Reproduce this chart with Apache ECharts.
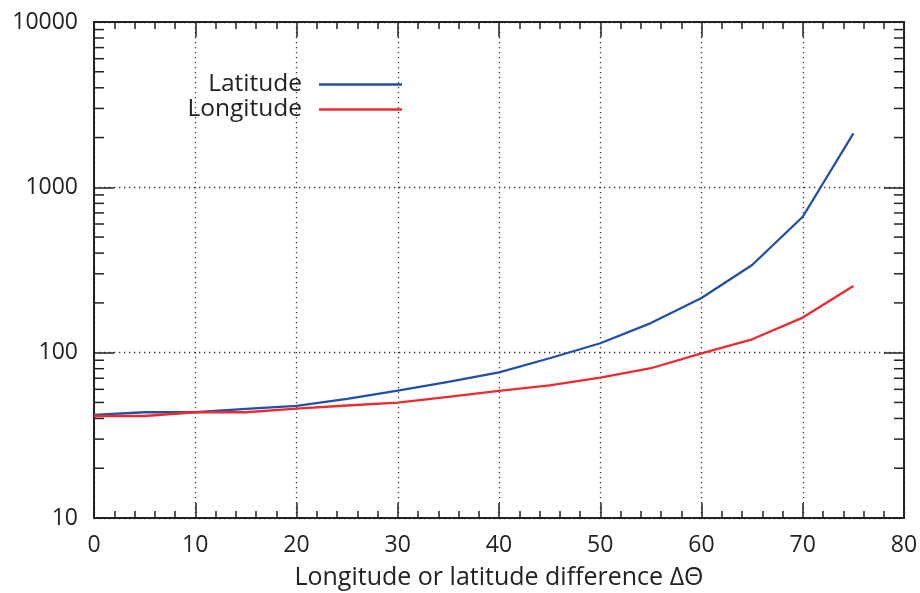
<!DOCTYPE html>
<html>
<head>
<meta charset="utf-8">
<script src="https://cdn.jsdelivr.net/npm/echarts@6/dist/echarts.min.js"></script>
<style>
  html, body { margin: 0; padding: 0; background: #fff; }
  #chart { width: 920px; height: 593px; }
</style>
</head>
<body>
<div id="chart"></div>
<script>
// Angular separation (degrees) at which each value was evaluated
const deltaTheta = [0, 5, 10, 15, 20, 25, 30, 35, 40, 45, 50, 55, 60, 65, 70, 75];
const latitudeValues  = [42, 43.6, 43.6, 45.7, 47.6, 52.5, 58.9, 66.5, 76, 92.5, 114, 151, 214, 339, 664, 2120];
const longitudeValues = [41.4, 41.4, 43.6, 43.6, 45.9, 47.9, 49.9, 54, 58.7, 63.5, 70.7, 80.5, 99, 120.5, 163, 253];
// Minor tick values on the logarithmic axis (2..9 within each decade)
const logMinorTicks = [20, 30, 40, 50, 60, 70, 80, 90, 200, 300, 400, 500, 600, 700, 800, 900, 2000, 3000, 4000, 5000, 6000, 7000, 8000, 9000];

const FONT = '"Open Sans", Lato, sans-serif';
const INK = '#222';

const chart = echarts.init(document.getElementById('chart'), null, { renderer: 'canvas' });

const zip = (xs, ys) => xs.map((x, i) => [x, ys[i]]);

const dotted = { color: '#333', width: 1.3, type: [1.3, 3.7] };

const xCommon = {
  type: 'value', min: 0, max: 80, interval: 10,
  axisLine: { show: true, onZero: false, lineStyle: { color: INK, width: 2 } },
  axisTick: { show: true, inside: true, length: 15, lineStyle: { color: INK, width: 1.5 } },
  minorTick: { show: true, splitNumber: 5, length: 7, lineStyle: { color: INK, width: 1.5 } }
};
const yCommon = {
  type: 'log', logBase: 10, min: 10, max: 10000,
  axisLine: { show: true, onZero: false, lineStyle: { color: INK, width: 2 } },
  axisTick: { show: true, inside: true, length: 20, lineStyle: { color: INK, width: 1.5 } }
};

chart.setOption({
  animation: false,
  backgroundColor: '#fff',
  grid: { left: 94, right: 16, top: 22, bottom: 75, containLabel: false, outerBoundsMode: 'none' },
  legend: {
    orient: 'vertical', align: 'right', left: 180, top: 72, padding: 0,
    icon: 'rect', itemWidth: 83, itemHeight: 2.3, itemGap: 0,
    textStyle: { fontFamily: FONT, fontSize: 24.5, color: INK, width: 122, align: 'right', lineHeight: 24, padding: [0, 12, 0, 0] },
    data: ['Latitude', 'Longitude']
  },
  xAxis: [
    Object.assign({}, xCommon, {
      position: 'bottom',
      name: 'Longitude or latitude difference \u0394\u0398',
      nameLocation: 'middle', nameGap: 47,
      nameTextStyle: { fontFamily: FONT, fontSize: 25, color: INK },
      axisLabel: { fontFamily: FONT, fontSize: 23, color: INK, margin: 16 },
      splitLine: { show: true, lineStyle: dotted }
    }),
    Object.assign({}, xCommon, {
      position: 'top',
      axisLabel: { show: false },
      splitLine: { show: false }
    })
  ],
  yAxis: [
    Object.assign({}, yCommon, {
      position: 'left',
      axisLabel: { fontFamily: FONT, fontSize: 23, color: INK, margin: 16, formatter: v => String(Math.round(v)) },
      splitLine: { show: true, lineStyle: dotted }
    }),
    Object.assign({}, yCommon, {
      position: 'right',
      axisLabel: { show: false },
      splitLine: { show: false }
    })
  ],
  series: [
    {
      name: 'Latitude', type: 'line', data: zip(deltaTheta, latitudeValues),
      showSymbol: false, symbol: 'none', z: 5,
      lineStyle: { color: '#2150a6', width: 2.3 }, itemStyle: { color: '#2150a6' }
    },
    {
      name: 'Longitude', type: 'line', data: zip(deltaTheta, longitudeValues),
      showSymbol: false, symbol: 'none', z: 5,
      lineStyle: { color: '#ee2a30', width: 2.3 }, itemStyle: { color: '#ee2a30' }
    },
    {
      // short inward minor ticks on both logarithmic axes
      type: 'custom', silent: true, z: 3,
      data: logMinorTicks.map(v => [0, v]),
      encode: { x: 0, y: 1 },
      renderItem: function (params, api) {
        const v = api.value(1);
        const l = api.coord([0, v]);
        const r = api.coord([80, v]);
        const style = { stroke: INK, lineWidth: 1.5 };
        return {
          type: 'group',
          children: [
            { type: 'line', shape: { x1: l[0], y1: l[1], x2: l[0] + 10, y2: l[1] }, style: style },
            { type: 'line', shape: { x1: r[0], y1: r[1], x2: r[0] - 10, y2: r[1] }, style: style }
          ]
        };
      }
    }
  ]
});
</script>
</body>
</html>
